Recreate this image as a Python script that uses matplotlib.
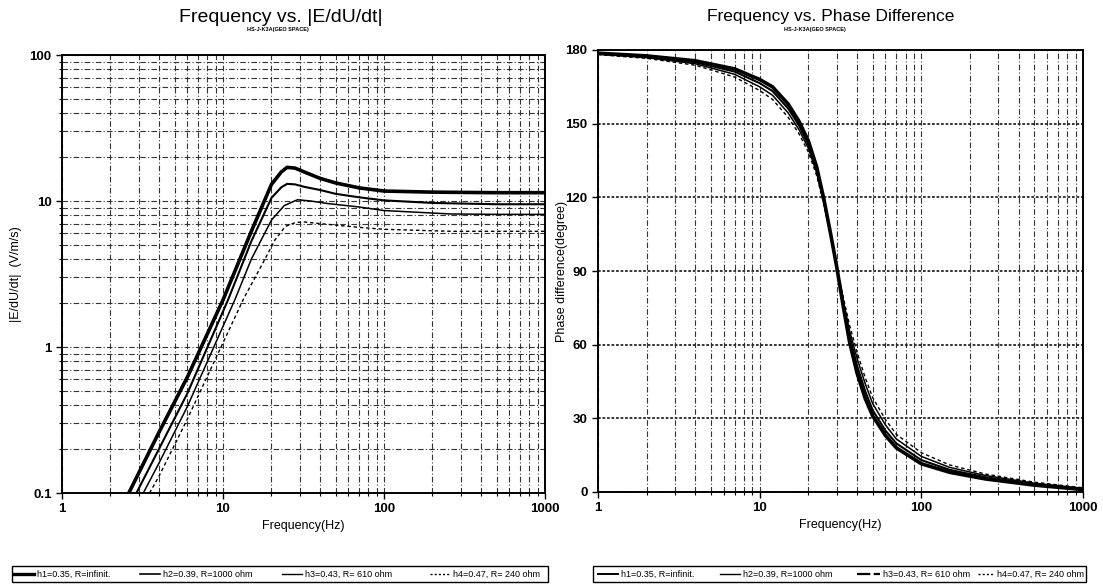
import matplotlib
matplotlib.use("Agg")
import matplotlib.pyplot as plt
from matplotlib.lines import Line2D
from matplotlib.patches import Rectangle
from matplotlib.ticker import LogLocator, FixedLocator, NullFormatter, FixedFormatter

plt.rcParams['font.family'] = ['Liberation Sans', 'DejaVu Sans']

# ---------------- data ----------------
labels_left = ["h1=0.35, R=infinit.", "h2=0.39, R=1000 ohm", "h3=0.43, R= 610 ohm", "h4=0.47, R= 240 ohm"]
labels_right = ["h1=0.35, R=infinit.", "h2=0.39, R=1000 ohm", "h3=0.43, R= 610 ohm", "h4=0.47, R= 240 ohm"]

# magnitude |E/dU/dt| (V/m/s)
f_h1 = [2.6, 4, 6, 10, 15, 20, 23, 25, 28, 32, 40, 50, 70, 100, 200, 500, 1000]
m_h1 = [0.1, 0.26, 0.62, 2.1, 6.2, 13.0, 15.8, 17.0, 16.8, 15.8, 14.3, 13.3, 12.3, 11.7, 11.5, 11.4, 11.4]
f_h2 = [2.9, 4, 6, 10.8, 15, 20, 23, 25, 28, 32, 40, 50, 70, 100, 200, 500, 1000]
m_h2 = [0.1, 0.2, 0.48, 2.13, 5.3, 10.5, 12.4, 13.1, 13.0, 12.5, 11.9, 11.2, 10.6, 10.1, 9.7, 9.5, 9.5]
f_h3 = [3.2, 4, 6, 11.9, 15, 20, 24, 29, 35, 45, 70, 100, 260, 500, 1000]
m_h3 = [0.1, 0.16, 0.39, 2.13, 4.0, 7.4, 9.3, 10.2, 10.0, 9.6, 9.1, 8.6, 8.15, 8.1, 8.1]
f_h4 = [3.5, 4, 6, 13.4, 18, 21, 24.4, 28, 31.5, 40, 70, 100, 260, 500, 1000]
m_h4 = [0.1, 0.13, 0.32, 2.13, 3.9, 5.4, 6.7, 7.1, 7.2, 7.0, 6.6, 6.4, 6.2, 6.2, 6.2]

# phase difference (degree)
f_ph = [1, 2, 4, 7, 10, 12, 15, 17.5, 20, 22.5, 25, 27.5, 30, 33, 36, 40, 45, 50, 60, 70, 100, 150, 250, 500, 1000]
p_h1 = [178.7, 177.6, 175.6, 172.3, 168.0, 165.0, 158.0, 151.0, 143.0, 132.5, 119.0, 105.0, 91.5,
        75.0, 61.0, 48.5, 38.0, 31.0, 23.0, 18.0, 11.5, 8.0, 5.3, 2.8, 1.0]
p_h2 = [178.5, 177.2, 175.0, 171.2, 166.5, 163.3, 156.2, 149.3, 141.5, 131.3, 118.3, 104.7, 91.5,
        76.3, 63.3, 51.5, 41.0, 33.3, 25.0, 19.8, 13.0, 9.0, 6.0, 3.2, 1.3]
p_h3 = [178.3, 176.9, 174.4, 170.1, 165.0, 161.6, 154.4, 147.6, 140.0, 130.1, 117.6, 104.4, 91.5,
        77.6, 65.6, 54.5, 44.0, 36.0, 27.3, 21.6, 14.5, 10.0, 6.7, 3.6, 1.5]
p_h4 = [178.1, 176.6, 173.8, 169.0, 163.5, 159.9, 152.6, 145.9, 138.5, 128.9, 116.9, 104.1, 91.5,
        78.9, 67.9, 57.0, 46.5, 38.5, 29.5, 23.5, 16.0, 11.0, 7.3, 4.0, 1.7]

x_ticks = [1, 10, 100, 1000]
x_ticklabels = ["1", "10", "100", "1000"]
mag_ticks = [0.1, 1, 10, 100]
mag_ticklabels = ["0.1", "1", "10", "100"]
ph_ticks = [0, 30, 60, 90, 120, 150, 180]
ph_ticklabels = ["0", "30", "60", "90", "120", "150", "180"]

styles = [
    dict(color="black", lw=2.6, ls="-"),
    dict(color="black", lw=1.5, ls="-"),
    dict(color="black", lw=1.1, ls="-"),
    dict(color="black", lw=1.0, ls=(0, (2.5, 2))),
]

fig = plt.figure(figsize=(11.03, 5.86), dpi=100)
W, H = 1103, 586

def fx(px):
    return px / W

def fy(py):
    return 1 - py / H

def ax_rect(x0, y0, x1, y1):
    return [x0 / W, 1 - y1 / H, (x1 - x0) / W, (y1 - y0) / H]

axL = fig.add_axes(ax_rect(62, 55, 545, 493))
axR = fig.add_axes(ax_rect(598, 50, 1083, 492))

gkw = dict(color="0.2", lw=0.8, ls=(0, (5, 2, 1, 2)))

# ---- left ----
for fxs, mx, st in zip([f_h1, f_h2, f_h3, f_h4], [m_h1, m_h2, m_h3, m_h4], styles):
    axL.plot(fxs, mx, **st)
axL.set_xscale("log")
axL.set_yscale("log")
axL.set_xlim(1, 1000)
axL.set_ylim(0.1, 100)
axL.xaxis.set_major_locator(FixedLocator(x_ticks))
axL.xaxis.set_major_formatter(FixedFormatter(x_ticklabels))
axL.yaxis.set_major_locator(FixedLocator(mag_ticks))
axL.yaxis.set_major_formatter(FixedFormatter(mag_ticklabels))
axL.xaxis.set_minor_locator(LogLocator(base=10, subs=range(2, 10)))
axL.yaxis.set_minor_locator(LogLocator(base=10, subs=range(2, 10)))
axL.xaxis.set_minor_formatter(NullFormatter())
axL.yaxis.set_minor_formatter(NullFormatter())
axL.grid(True, which="both", **gkw)
axL.set_xlabel("Frequency(Hz)", fontsize=9, labelpad=3)
axL.set_ylabel("|E/dU/dt|  (V/m/s)", fontsize=9)
axL.yaxis.set_label_coords(-0.083, 0.5)

# ---- right ----
for px, st in zip([p_h1, p_h2, p_h3, p_h4], styles):
    axR.plot(f_ph, px, **st)
axR.set_xscale("log")
axR.set_xlim(1, 1000)
axR.set_ylim(0, 180)
axR.xaxis.set_major_locator(FixedLocator(x_ticks))
axR.xaxis.set_major_formatter(FixedFormatter(x_ticklabels))
axR.xaxis.set_minor_locator(LogLocator(base=10, subs=range(2, 10)))
axR.xaxis.set_minor_formatter(NullFormatter())
axR.yaxis.set_major_locator(FixedLocator(ph_ticks))
axR.yaxis.set_major_formatter(FixedFormatter(ph_ticklabels))
axR.grid(True, which="both", axis="x", **gkw)
axR.grid(True, which="major", axis="y", color="0.15", lw=1.3, ls=(0, (1.5, 1)))
axR.set_xlabel("Frequency(Hz)", fontsize=9, labelpad=3)
axR.set_ylabel("Phase difference(degree)", fontsize=9)
axR.yaxis.set_label_coords(-0.062, 0.5)

for ax in (axL, axR):
    ax.set_axisbelow(True)
    for s in ax.spines.values():
        s.set_linewidth(1.4)
    ax.tick_params(which="major", direction="out", length=4, width=1, labelsize=9.5)
    ax.tick_params(which="minor", direction="out", length=2.5, width=0.8)
    for lab in ax.get_xticklabels() + ax.get_yticklabels():
        lab.set_fontweight("bold")

# titles
fig.text(fx(281), fy(17), "Frequency vs. |E/dU/dt|", ha="center", va="center", fontsize=14)
fig.text(fx(278), fy(30), "HS-J-K3A(GEO SPACE)", ha="center", va="center", fontsize=4, fontweight="bold")
fig.text(fx(831), fy(17), "Frequency vs. Phase Difference", ha="center", va="center", fontsize=12.5)
fig.text(fx(815), fy(30), "HS-J-K3A(GEO SPACE)", ha="center", va="center", fontsize=4, fontweight="bold")

# legends (drawn manually, line samples + labels)
leg_styles = [
    dict(color="black", lw=2.4, ls="-"),
    dict(color="black", lw=1.2, ls="-"),
    dict(color="black", lw=1.0, ls="-"),
    dict(color="black", lw=1.0, ls=(0, (1.5, 1.5))),
]
leg_styles_r = [
    dict(color="black", lw=1.4, ls="-"),
    dict(color="black", lw=1.0, ls="-"),
    dict(color="black", lw=1.6, ls=(0, (6, 1.5))),
    dict(color="black", lw=1.0, ls=(0, (1.5, 1.5))),
]
legend_boxes = [
    (12, 548, labels_left, leg_styles, [(14, 34, 37), (140, 160, 163), (282, 302, 305), (430, 450, 453)]),
    (593, 1086, labels_right, leg_styles_r, [(598, 618, 621), (720, 740, 743), (857, 880, 883), (978, 994, 997)]),
]
y0, y1 = 566, 582
yc = (y0 + y1) / 2
for bx0, bx1, labs, lsty, pos in legend_boxes:
    fig.add_artist(Rectangle((fx(bx0), fy(y1)), (bx1 - bx0) / W, (y1 - y0) / H,
                             transform=fig.transFigure, fill=False, edgecolor="black", lw=1.0))
    for lab, st, (lx0, lx1, tx) in zip(labs, lsty, pos):
        fig.add_artist(Line2D([fx(lx0), fx(lx1)], [fy(yc), fy(yc)], transform=fig.transFigure, **st))
        fig.text(fx(tx), fy(yc), lab, ha="left", va="center", fontsize=6.5)

fig.savefig("out.png", dpi=100)
